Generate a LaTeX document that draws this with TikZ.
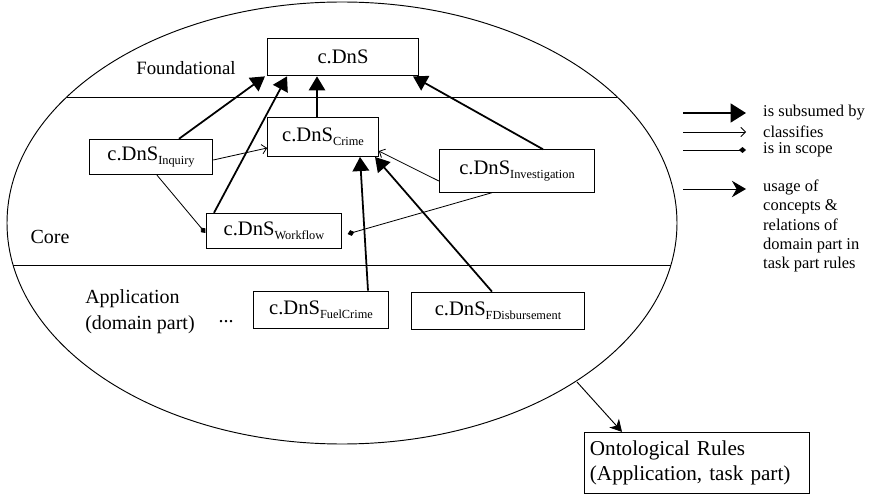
\documentclass[tikz,border=0pt]{standalone}
\usepackage{fontspec}
\setmainfont{Liberation Serif}
\usepackage{tikz}
\usetikzlibrary{arrows.meta,calc}

\newcommand{\dnsname}[1]{c.DnS\raisebox{-0.45ex}{\fontsize{10.5}{11}\selectfont #1}}

\begin{document}
\begin{tikzpicture}[x=0.85pt,y=-0.85pt,
	dnsbox/.style={draw,line width=0.9pt,inner sep=0pt,font=\fontsize{17.5}{21}\selectfont},
	layertext/.style={font=\fontsize{17}{22}\selectfont,align=left,inner sep=0pt},
	legendtext/.style={anchor=west,font=\fontsize{14}{16.2}\selectfont,align=left,inner sep=0pt},
	subsumed/.style={line width=1.5pt,-{Triangle[length=12pt,width=14pt]}},
	classifies/.style={line width=0.7pt,-{Straight Barb[length=4pt,width=8pt]}},
	inscope/.style={line width=0.7pt,-{Diamond[length=6pt,width=5pt]}},
	usage/.style={line width=0.8pt,-{Stealth[length=10pt,width=11pt,inset=3pt]}}]

	\useasboundingbox (0,0) rectangle (869,498);

	\draw[line width=0.8pt] (342,223) ellipse (335 and 221);
	\draw[line width=0.7pt] (67,97) -- (617,97);
	\draw[line width=0.7pt] (13,265) -- (671,265);

	\node[layertext,font=\fontsize{16}{20}\selectfont] (found) at (186,68) {Foundational};
	\node[layertext] (core) at (50,237) {Core};
	\node[layertext] (appl) at (140,312) {Application\\(domain part)};
	\node[layertext] (dots) at (226,322) {...};

	\node[dnsbox,minimum width=128pt,minimum height=32pt] (dns) at (343,57) {c.DnS};
	\node[dnsbox,minimum width=94pt,minimum height=33pt] (crime) at (323,137) {\dnsname{Crime}};
	\node[dnsbox,minimum width=105pt,minimum height=30pt] (inq) at (151,157) {\dnsname{Inquiry}};
	\node[dnsbox,minimum width=132pt,minimum height=36pt] (inv) at (517,171) {\dnsname{Investigation}};
	\node[dnsbox,minimum width=114pt,minimum height=30pt] (wf) at (274,231) {\dnsname{Workflow}};
	\node[dnsbox,minimum width=115pt,minimum height=32pt] (fuel) at (321,310) {\dnsname{FuelCrime}};
	\node[dnsbox,minimum width=147pt,minimum height=32pt] (fdis) at (498,311) {\dnsname{FDisbursement}};
	\node[dnsbox,minimum width=191pt,minimum height=52pt,align=left,text width=182pt,font=\fontsize{18}{21}\selectfont] (rules) at (697,463) {Ontological Rules\\(Application, task part)};

	\draw[subsumed] ($(inq.north)+(28,0)$) -- ($(dns.south)+(-78,0)$);
	\draw[subsumed] ($(wf.north)+(-60,0)$) -- ($(dns.south)+(-56,0)$);
	\draw[subsumed] ($(crime.north)+(-6,0)$) -- ($(dns.south)+(-26,0)$);
	\draw[subsumed] ($(inv.north)+(26,0)$) -- ($(dns.south)+(70,0)$);
	\draw[subsumed] ($(fuel.north)+(47,0)$) -- ($(crime.south)+(37,0)$);
	\draw[subsumed] ($(fdis.north)+(-6,0)$) -- ($(crime.south)+(52,0)$);

	\draw[classifies] ($(inq.east)+(0,3)$) -- ($(crime.west)+(0,11)$);
	\draw[classifies] ($(inv.west)+(0,10)$) -- ($(crime.east)+(0,14)$);

	\draw[inscope] ($(inq.south)+(6,0)$) -- ($(wf.west)+(-1,2)$);
	\draw[inscope] ($(inv.south)+(-25,0)$) -- ($(wf.east)+(6,3)$);

	\coordinate (rim) at (577,382);
	\draw[usage] (rim) -- ($(rules.north)+(-75,0)$);

	\coordinate (k1a) at (683,113); \coordinate (k1b) at (746,113);
	\coordinate (k2a) at (683,132); \coordinate (k2b) at (746,132);
	\coordinate (k3a) at (683,150); \coordinate (k3b) at (746,150);
	\coordinate (k4a) at (683,189); \coordinate (k4b) at (746,189);
	\draw[subsumed,-{Triangle[length=13pt,width=16pt]}] (k1a) -- (k1b);
	\draw[classifies] (k2a) -- (k2b);
	\draw[inscope] (k3a) -- (k3b);
	\draw[usage,-{Stealth[length=12pt,width=14pt,inset=4pt]}] (k4a) -- (k4b);

	\node[legendtext] (t1) at (763,113) {is subsumed by};
	\node[legendtext] (t2) at (763,132) {classifies};
	\node[legendtext] (t3) at (763,150) {is in scope};
	\node[legendtext] (t4) at (763,226) {usage of\\concepts \&\\relations of\\domain part in\\task part rules};

\end{tikzpicture}
\end{document}
